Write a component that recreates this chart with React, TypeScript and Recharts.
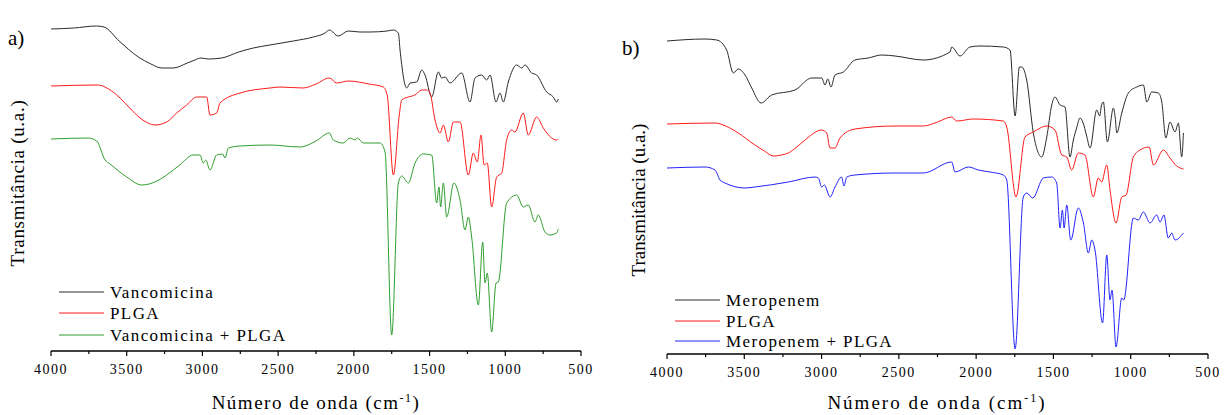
import React from "react";
import { LineChart, Line, XAxis, YAxis } from "recharts";

// wavenumber (cm-1) vs transmittance (a.u.)
const vancomicina: [number, number][] = [
  [4000, 322], [3850, 323], [3700, 325], [3650, 324], [3550, 310], [3423, 294], [3340, 287],
  [3269, 283], [3192, 283], [3100, 288], [3050, 291], [3010, 293], [2960, 292], [2873, 293],
  [2760, 299], [2664, 303], [2554, 306], [2400, 310], [2268, 314], [2190, 318], [2162, 321],
  [2103, 315], [2037, 320], [1960, 319], [1893, 319], [1780, 320], [1739, 321], [1706, 318],
  [1695, 301], [1651, 263], [1629, 268], [1585, 269], [1552, 281], [1530, 276], [1486, 254],
  [1442, 279], [1420, 273], [1398, 274], [1365, 268], [1288, 278], [1233, 249], [1200, 273],
  [1156, 276], [1123, 271], [1101, 276], [1061, 249], [1035, 258], [1013, 249], [980, 269],
  [925, 286], [892, 283], [870, 286], [826, 278], [793, 276], [727, 259], [683, 254],
  [661, 249], [650, 252],
];

const plgaA: [number, number][] = [
  [4000, 265], [3688, 266], [3620, 262], [3544, 253], [3480, 243], [3412, 233], [3360, 228],
  [3313, 226], [3236, 229], [3170, 238], [3104, 246], [3038, 254], [2972, 254], [2950, 236],
  [2906, 238], [2884, 248], [2752, 258], [2554, 263], [2488, 264], [2336, 263], [2250, 267],
  [2162, 273], [2113, 268], [2037, 270], [1900, 267], [1806, 264], [1780, 256], [1739, 176],
  [1700, 236], [1684, 251], [1640, 254], [1596, 256], [1552, 261], [1519, 261], [1497, 258],
  [1464, 231], [1431, 218], [1409, 226], [1376, 209], [1343, 229], [1299, 229], [1244, 176],
  [1211, 198], [1185, 189], [1160, 216], [1140, 186], [1119, 188], [1090, 144], [1057, 174],
  [1024, 178], [991, 211], [958, 221], [936, 219], [881, 238], [848, 216], [793, 234],
  [749, 223], [694, 213], [661, 211], [650, 212],
];

const vancoPlga: [number, number][] = [
  [4000, 212], [3754, 213], [3698, 210], [3643, 191], [3610, 187], [3500, 174], [3401, 166],
  [3300, 170], [3236, 176], [3150, 186], [3060, 196], [3016, 196], [2994, 188], [2978, 191],
  [2950, 181], [2906, 196], [2866, 197], [2851, 193], [2829, 203], [2752, 205], [2554, 206],
  [2356, 204], [2250, 210], [2162, 218], [2136, 211], [2070, 208], [2025, 213], [1992, 211],
  [1977, 213], [1937, 208], [1827, 208], [1794, 199], [1750, 16], [1706, 168], [1684, 175],
  [1640, 168], [1596, 188], [1541, 197], [1486, 196], [1453, 148], [1438, 164], [1427, 144],
  [1409, 168], [1387, 134], [1339, 168], [1299, 151], [1266, 121], [1244, 134], [1222, 114],
  [1178, 46], [1149, 109], [1134, 68], [1119, 78], [1090, 19], [1061, 68], [1046, 69],
  [991, 148], [925, 156], [881, 144], [848, 146], [804, 129], [782, 136], [738, 119],
  [705, 116], [661, 118], [650, 122],
];

const meropenem: [number, number][] = [
  [4000, 313], [3754, 315], [3678, 314], [3614, 304], [3571, 281], [3539, 285], [3495, 279],
  [3452, 266], [3392, 251], [3323, 259], [3172, 264], [3064, 276], [2999, 276], [2978, 269],
  [2960, 275], [2939, 267], [2913, 279], [2859, 282], [2784, 294], [2698, 296], [2611, 299],
  [2525, 298], [2342, 294], [2169, 302], [2158, 307], [2104, 298], [2040, 307], [1975, 308],
  [1824, 307], [1781, 304], [1748, 238], [1720, 287], [1705, 287], [1673, 274], [1630, 221],
  [1576, 197], [1543, 217], [1511, 249], [1490, 257], [1457, 249], [1425, 247], [1393, 197],
  [1371, 214], [1350, 226], [1328, 236], [1310, 232], [1285, 218], [1263, 206], [1220, 244],
  [1200, 238], [1190, 248], [1177, 252], [1151, 212], [1112, 246], [1100, 236], [1090, 221],
  [1058, 241], [1015, 261], [961, 267], [918, 269], [896, 252], [864, 262], [821, 261],
  [799, 252], [773, 216], [746, 232], [713, 222], [692, 231], [670, 197], [659, 221],
];

const plgaB: [number, number][] = [
  [4000, 230], [3689, 231], [3620, 228], [3539, 221], [3431, 209], [3370, 203], [3312, 198],
  [3260, 199], [3215, 201], [3160, 207], [3107, 214], [2999, 224], [2967, 221], [2945, 206],
  [2913, 206], [2881, 216], [2784, 225], [2525, 228], [2342, 228], [2250, 232], [2158, 237],
  [2126, 233], [2018, 235], [1824, 233], [1802, 227], [1742, 157], [1684, 217], [1630, 222],
  [1543, 228], [1490, 224], [1446, 199], [1414, 197], [1382, 184], [1339, 201], [1296, 199],
  [1242, 157], [1210, 176], [1188, 172], [1155, 189], [1134, 164], [1095, 131], [1058, 157],
  [1030, 159], [983, 197], [940, 204], [881, 207], [853, 189], [789, 204], [746, 196],
  [703, 188], [659, 185],
];

const meropenemPlga: [number, number][] = [
  [4000, 186], [3754, 187], [3689, 184], [3657, 174], [3625, 171], [3495, 166], [3431, 167],
  [3215, 172], [3042, 177], [3021, 176], [2999, 167], [2982, 169], [2945, 157], [2913, 167],
  [2870, 177], [2855, 168], [2837, 177], [2784, 179], [2525, 181], [2342, 181], [2158, 192],
  [2137, 182], [2050, 187], [1986, 184], [1910, 182], [1824, 179], [1802, 174], [1748, 5],
  [1695, 157], [1673, 161], [1634, 156], [1565, 176], [1511, 177], [1479, 171], [1457, 126],
  [1442, 144], [1431, 126], [1414, 149], [1388, 114], [1339, 146], [1306, 131], [1274, 101],
  [1252, 114], [1231, 104], [1182, 31], [1155, 99], [1134, 54], [1121, 64], [1095, 7],
  [1058, 56], [1045, 54], [983, 136], [951, 134], [918, 142], [875, 131], [832, 139],
  [810, 132], [785, 139], [757, 116], [735, 121], [713, 114], [659, 121],
];

const xTicks = [4000, 3750, 3500, 3250, 3000, 2750, 2500, 2250, 2000, 1750, 1500, 1250, 1000, 750, 500];

const SERIF = "'Liberation Serif', 'Times New Roman', serif";
const BLACK = "#2b2b2b";
const RED = "#ff1a1a";
const GREEN = "#2e9e2e";
const BLUE = "#2323ff";

const toPts = (arr: [number, number][]) => arr.map(([w, t]) => ({ w, t }));

const WaveTick = (props: any) => {
  const { x, y, payload } = props;
  const major = payload.value % 500 === 0;
  return (
    <g>
      <line x1={x} x2={x} y1={y} y2={y + (major ? 5 : 3)} stroke="#000" strokeWidth={1.2} />
      {major && (
        <text x={x} y={y + 23} textAnchor="middle" fontFamily={SERIF} fontSize={14} letterSpacing={1.5} fill="#000">
          {payload.value}
        </text>
      )}
    </g>
  );
};

interface Series {
  name: string;
  color: string;
  pts: [number, number][];
}

interface PanelProps {
  left: number;
  top: number;
  right: number;
  bottom: number;
  yMax: number;
  series: Series[];
}

const Panel: React.FC<PanelProps> = ({ left, top, right, bottom, yMax, series }) => (
  <LineChart width={616} height={415} margin={{ top, left, right, bottom }}>
    <XAxis
      type="number"
      dataKey="w"
      domain={[500, 4000]}
      reversed
      ticks={xTicks}
      interval={0}
      tickSize={0}
      tickMargin={0}
      tick={<WaveTick />}
      tickLine={false}
      height={30}
      axisLine={{ stroke: "#000", strokeWidth: 1.5 }}
      allowDataOverflow
    />
    <YAxis
      type="number"
      domain={[0, yMax]}
      width={0}
      tick={false}
      tickLine={false}
      axisLine={{ stroke: "#000", strokeWidth: 2 }}
      allowDataOverflow
    />
    {series.map((s) => (
      <Line
        key={s.name}
        data={toPts(s.pts)}
        dataKey="t"
        type="monotone"
        stroke={s.color}
        strokeWidth={1}
        dot={false}
        isAnimationActive={false}
      />
    ))}
  </LineChart>
);

const Legend: React.FC<{ x: number; ys: number[]; series: Series[] }> = ({ x, ys, series }) => (
  <g>
    {series.map((s, i) => (
      <g key={s.name}>
        <line x1={x} x2={x + 45} y1={ys[i]} y2={ys[i]} stroke={s.color} strokeWidth={1} />
        <text x={x + 51} y={ys[i] + 5.5} fontFamily={SERIF} fontSize={17} letterSpacing={1.4} fill="#000">
          {s.name}
        </text>
      </g>
    ))}
  </g>
);

const seriesA: Series[] = [
  { name: "Vancomicina", color: BLACK, pts: vancomicina },
  { name: "PLGA", color: RED, pts: plgaA },
  { name: "Vancomicina + PLGA", color: GREEN, pts: vancoPlga },
];

const seriesB: Series[] = [
  { name: "Meropenem", color: BLACK, pts: meropenem },
  { name: "PLGA", color: RED, pts: plgaB },
  { name: "Meropenem + PLGA", color: BLUE, pts: meropenemPlga },
];

const XTitle: React.FC<{ cx: number; spacing: number }> = ({ cx, spacing }) => (
  <text x={cx} y={409} textAnchor="middle" fontFamily={SERIF} fontSize={19} letterSpacing={spacing} fill="#000">
    Número de onda (cm
    <tspan dy={-7} fontSize={12}>-1</tspan>
    <tspan dy={7}>)</tspan>
  </text>
);

const App: React.FC = () => (
  <div style={{ position: "absolute", left: 0, top: 0, width: 1232, height: 415, background: "#fff" }}>
    <div style={{ position: "absolute", left: 0, top: 0 }}>
      <Panel left={51} top={10} right={35} bottom={34} yMax={341} series={seriesA} />
    </div>
    <div style={{ position: "absolute", left: 616, top: 0 }}>
      <Panel left={51} top={36} right={24} bottom={31} yMax={318} series={seriesB} />
    </div>
    <svg width={1232} height={415} style={{ position: "absolute", left: 0, top: 0, pointerEvents: "none" }}>
      <text x={8} y={45} fontFamily={SERIF} fontSize={21} fill="#000">a)</text>
      <text x={622} y={55} fontFamily={SERIF} fontSize={21} fill="#000">b)</text>
      <text
        transform="translate(24,183) rotate(-90)"
        textAnchor="middle"
        fontFamily={SERIF}
        fontSize={19}
        letterSpacing={0.7}
        fill="#000"
      >
        Transmitância (u.a.)
      </text>
      <text
        transform="translate(645,200) rotate(-90)"
        textAnchor="middle"
        fontFamily={SERIF}
        fontSize={19}
        fill="#000"
      >
        Transmitância (u.a.)
      </text>
      <XTitle cx={316} spacing={1.5} />
      <XTitle cx={937} spacing={2} />
      <Legend x={59} ys={[292, 313, 335]} series={seriesA} />
      <Legend x={675} ys={[300, 321, 341]} series={seriesB} />
    </svg>
  </div>
);

export default App;
